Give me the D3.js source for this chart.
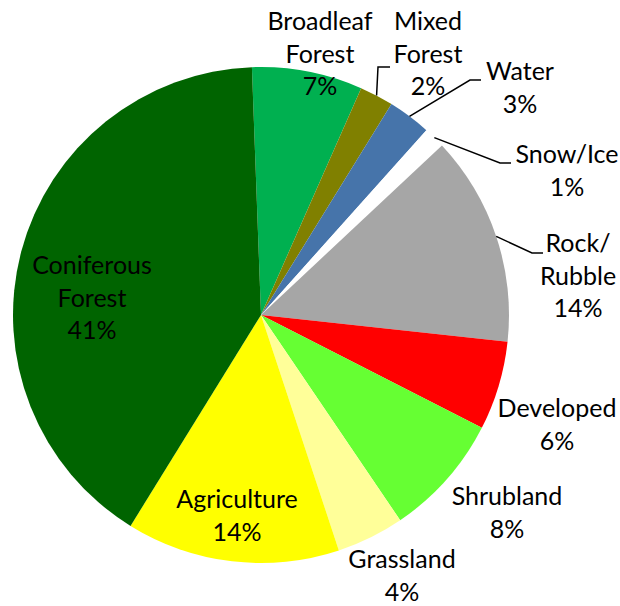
<!DOCTYPE html>
<html>
<head>
<meta charset="utf-8">
<script src="https://cdn.jsdelivr.net/npm/d3@7"></script>
<style>
  html, body { margin: 0; padding: 0; background: #fff; }
  svg text { font-family: Lato, "Open Sans", sans-serif; fill: #000; }
</style>
</head>
<body>
<svg id="chart" width="620" height="606"></svg>
<script>
// Land cover shares (percent), clockwise from the top
const categories = [
  "Broadleaf\nForest", "Mixed\nForest", "Water", "Snow/Ice", "Rock/\nRubble",
  "Developed", "Shrubland", "Grassland", "Agriculture", "Coniferous\nForest"
];
const shares = [7.2, 2.2, 2.8, 1.4, 13.7, 5.8, 8.0, 4.4, 13.9, 40.6];
const colors = [
  "#00b050", "#808000", "#4674aa", "#ffffff", "#a6a6a6",
  "#ff0000", "#66ff33", "#ffff99", "#ffff00", "#006400"
];

// Layout
const cx = 261, cy = 315, radius = 248;
const startDeg = -2.1;
const lineGap = 32.5;

// label placement: text center x, first baseline y, optional leader (elbow + end)
const labelLayout = {
  "Broadleaf\nForest": { x: 320, y: 30 },
  "Mixed\nForest": { x: 428, y: 30, leader: [[378, 67], [390, 67]] },
  "Water": { x: 520, y: 80, leader: [[470, 80], [481, 80]] },
  "Snow/Ice": { x: 567, y: 163, leader: [[500, 163], [511, 163]] },
  "Rock/\nRubble": { x: 578, y: 252, leader: [[532, 253], [543, 253]] },
  "Developed": { x: 557, y: 417 },
  "Shrubland": { x: 507, y: 505 },
  "Grassland": { x: 402, y: 568 },
  "Agriculture": { x: 237, y: 508 },
  "Coniferous\nForest": { x: 92, y: 274 }
};

const svg = d3.select("#chart");
const g = svg.append("g").attr("transform", `translate(${cx},${cy})`);

const start = startDeg * Math.PI / 180;
const pie = d3.pie()
  .sort(null)
  .value((d) => d.value)
  .startAngle(start)
  .endAngle(start + 2 * Math.PI);

const arc = d3.arc().innerRadius(0).outerRadius(radius);

const data = categories.map((name, i) => ({ name, value: shares[i], color: colors[i] }));
const arcs = pie(data);

g.selectAll("path.slice")
  .data(arcs)
  .join("path")
  .attr("class", "slice")
  .attr("d", arc)
  .attr("fill", (d) => d.data.color);

// leader lines start on the rim at the slice mid-angle
const line = d3.line();
arcs.forEach((d) => {
  const lay = labelLayout[d.data.name];
  if (!lay.leader) return;
  const mid = (d.startAngle + d.endAngle) / 2;
  const p0 = [cx + radius * Math.sin(mid), cy - radius * Math.cos(mid)];
  svg.append("path")
    .attr("d", line([p0, ...lay.leader]))
    .attr("fill", "none")
    .attr("stroke", "#000")
    .attr("stroke-width", 1.5);
});

// labels
const fmt = (v) => `${Math.round(v)}%`;
arcs.forEach((d) => {
  const lay = labelLayout[d.data.name];
  const lines = d.data.name.split("\n").concat(fmt(d.data.value));
  const text = svg.append("text")
    .attr("text-anchor", "middle")
    .attr("font-size", 25);
  lines.forEach((t, i) => {
    text.append("tspan")
      .attr("x", lay.x)
      .attr("y", lay.y + i * lineGap)
      .text(t);
  });
});
</script>
</body>
</html>
